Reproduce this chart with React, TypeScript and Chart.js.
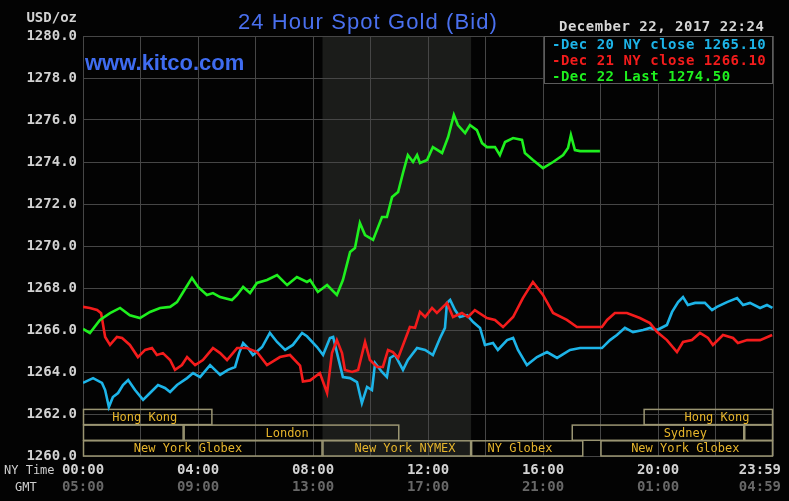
import React, { useEffect, useRef } from "react";
import { Chart, registerables } from "chart.js";

Chart.register(...registerables);

const W = 789;
const H = 501;

// ---- data (time in NY hours, price in USD/oz) ----
const dec20Hours = [0,0.35,0.66,0.77,0.9,1.04,1.22,1.39,1.57,1.81,2.09,2.33,2.61,2.85,3.03,3.27,3.62,3.83,4.07,4.42,4.77,5.04,5.29,5.43,5.57,5.74,5.91,6.23,6.5,6.75,7.03,7.3,7.62,7.79,8.14,8.35,8.59,8.7,8.87,9.04,9.29,9.53,9.7,9.88,10.05,10.16,10.4,10.57,10.68,10.85,11.13,11.3,11.62,11.9,12.17,12.42,12.59,12.66,12.77,12.94,13.11,13.36,13.57,13.81,13.98,14.26,14.43,14.75,14.96,15.13,15.44,15.79,16.14,16.49,16.94,17.29,18.05,18.33,18.57,18.85,19.13,19.48,19.72,19.97,20.31,20.49,20.7,20.87,21.04,21.29,21.63,21.88,22.05,22.4,22.75,22.96,23.2,23.55,23.79,23.98];
const dec20Values = [1263.48,1263.71,1263.48,1263.14,1262.33,1262.81,1263.0,1263.38,1263.62,1263.14,1262.67,1263.0,1263.38,1263.24,1263.05,1263.38,1263.71,1263.95,1263.76,1264.33,1263.86,1264.1,1264.24,1264.9,1265.38,1265.14,1264.81,1265.19,1265.86,1265.43,1265.05,1265.29,1265.86,1265.7,1265.19,1264.81,1265.62,1265.67,1264.71,1263.76,1263.71,1263.52,1262.52,1263.29,1263.14,1264.43,1264.0,1263.76,1264.67,1264.81,1264.1,1264.57,1265.14,1265.05,1264.81,1265.62,1266.1,1267.29,1267.43,1266.95,1266.62,1266.71,1266.38,1266.1,1265.29,1265.38,1265.05,1265.52,1265.62,1265.05,1264.33,1264.71,1264.95,1264.67,1265.05,1265.14,1265.14,1265.52,1265.76,1266.1,1265.9,1266.0,1266.1,1266.0,1266.24,1266.86,1267.33,1267.57,1267.19,1267.29,1267.29,1266.95,1267.1,1267.33,1267.52,1267.19,1267.29,1267.05,1267.19,1267.05];

const dec21Hours = [0,0.24,0.49,0.63,0.77,0.94,1.18,1.36,1.63,1.91,2.16,2.4,2.57,2.78,3.03,3.2,3.44,3.62,3.9,4.17,4.52,4.77,5.01,5.36,5.7,6.05,6.4,6.85,7.2,7.55,7.65,7.9,8.24,8.49,8.66,8.83,9.01,9.11,9.36,9.57,9.81,9.98,10.23,10.43,10.61,10.78,10.96,11.37,11.55,11.72,11.9,12.14,12.31,12.66,12.87,13.18,13.39,13.63,14.05,14.33,14.61,14.96,15.3,15.65,16.0,16.35,16.83,17.18,18.05,18.23,18.5,18.92,19.37,19.72,19.97,20.31,20.66,20.87,21.18,21.46,21.74,21.91,22.26,22.61,22.78,23.1,23.55,23.97];
const dec21Values = [1267.1,1267.05,1266.95,1266.8,1265.67,1265.29,1265.67,1265.62,1265.29,1264.71,1265.05,1265.14,1264.81,1264.9,1264.57,1264.1,1264.33,1264.71,1264.33,1264.57,1265.14,1264.9,1264.57,1265.14,1265.14,1264.95,1264.33,1264.71,1264.81,1264.3,1263.55,1263.6,1263.95,1263.0,1264.9,1265.52,1264.9,1264.1,1264.0,1264.1,1265.43,1264.57,1264.24,1264.24,1265.05,1264.95,1264.67,1266.14,1266.1,1266.86,1266.62,1267.05,1266.81,1267.29,1266.62,1266.81,1266.62,1266.95,1266.57,1266.48,1266.14,1266.62,1267.52,1268.29,1267.67,1266.81,1266.48,1266.14,1266.14,1266.48,1266.81,1266.81,1266.57,1266.33,1265.9,1265.52,1264.95,1265.43,1265.52,1265.86,1265.62,1265.29,1265.76,1265.62,1265.38,1265.52,1265.52,1265.76];

const dec22Hours = [0,0.24,0.59,0.94,1.29,1.63,1.98,2.33,2.68,3.03,3.27,3.48,3.79,4.0,4.31,4.52,4.77,5.18,5.36,5.57,5.81,6.05,6.4,6.75,7.1,7.44,7.79,7.9,8.17,8.49,8.83,9.04,9.29,9.46,9.63,9.81,10.09,10.4,10.57,10.75,10.96,11.13,11.3,11.48,11.62,11.72,11.97,12.17,12.49,12.7,12.9,13.04,13.29,13.46,13.7,13.88,14.05,14.33,14.5,14.68,14.96,15.27,15.37,15.65,16.0,16.35,16.7,16.87,16.97,17.11,17.29,17.98];
const dec22Values = [1266.05,1265.86,1266.48,1266.8,1267.05,1266.7,1266.57,1266.86,1267.05,1267.1,1267.33,1267.8,1268.48,1268.05,1267.67,1267.76,1267.57,1267.43,1267.67,1268.05,1267.76,1268.24,1268.38,1268.62,1268.14,1268.52,1268.29,1268.38,1267.81,1268.14,1267.67,1268.38,1269.71,1269.9,1271.1,1270.52,1270.29,1271.38,1271.38,1272.33,1272.57,1273.48,1274.33,1274.0,1274.33,1273.95,1274.1,1274.71,1274.43,1275.19,1276.24,1275.76,1275.38,1275.76,1275.52,1274.9,1274.71,1274.71,1274.33,1274.95,1275.14,1275.05,1274.43,1274.1,1273.71,1274.0,1274.33,1274.67,1275.29,1274.57,1274.52,1274.52];

const seriesLabels = ["Dec 20 NY close 1265.10", "Dec 21 NY close 1266.10", "Dec 22 Last 1274.50"];
const seriesColors = ["#1db4e8", "#f41c1c", "#1ff01f"];

const yMin = 1260;
const yMax = 1280;
const yTicks = [1260, 1262, 1264, 1266, 1268, 1270, 1272, 1274, 1276, 1278, 1280];
const gridHours = [0, 2, 4, 6, 8, 10, 12, 14, 16, 18, 20, 22, 24];
const xLabelHours = [0, 4, 8, 12, 16, 20, 23.983];
const nyTimeLabels = ["00:00", "04:00", "08:00", "12:00", "16:00", "20:00", "23:59"];
const gmtLabels = ["05:00", "09:00", "13:00", "17:00", "21:00", "01:00", "04:59"];

const nymexStart = 8.33;
const nymexEnd = 13.5;

const sessionNames = ["Hong Kong", "Hong Kong", "", "London", "Sydney", "", "New York Globex", "New York NYMEX", "NY Globex", "New York Globex"];
const sessionRows = [0, 0, 1, 1, 1, 1, 2, 2, 2, 2];
const sessionStart = [0, 19.5, 0, 3.5, 17, 23, 0, 8.33, 13.5, 18];
const sessionEnd = [4.5, 24, 3.5, 11, 23, 24, 8.33, 13.5, 17.4, 24];
const sessionLabelAt = [2.15, 22.05, 0, 7.1, 20.95, 0, 3.65, 11.2, 15.2, 20.95];

const titleText = "24 Hour Spot Gold (Bid)";
const siteText = "www.kitco.com";
const dateText = "December 22, 2017 22:24";
const unitText = "USD/oz";

const BG = "#030303";
const SHADE = "#1b1c1a";
const GRID = "#464646";
const MONO = "'DejaVu Sans Mono', monospace";

const decor = {
  id: "decor",
  beforeDraw(chart: any) {
    const { ctx, chartArea: a, scales } = chart;
    const x = scales.x;
    ctx.save();
    ctx.fillStyle = BG;
    ctx.fillRect(0, 0, W, H);
    const x0 = x.getPixelForValue(nymexStart);
    const x1 = x.getPixelForValue(nymexEnd);
    ctx.fillStyle = SHADE;
    ctx.fillRect(x0, a.top, x1 - x0, a.bottom - a.top);
    ctx.restore();
  },
  beforeDatasetsDraw(chart: any) {
    const { ctx, chartArea: a, scales } = chart;
    const x = scales.x;
    const rowH = 15.7;
    ctx.save();
    ctx.strokeStyle = "#9a9572";
    ctx.lineWidth = 1.5;
    ctx.font = `12px ${MONO}`;
    ctx.fillStyle = "#e6b52c";
    ctx.textAlign = "center";
    ctx.textBaseline = "middle";
    for (let i = 0; i < sessionNames.length; i++) {
      const top = a.bottom - (3 - sessionRows[i]) * rowH;
      const xs = x.getPixelForValue(sessionStart[i]);
      const xe = x.getPixelForValue(sessionEnd[i]);
      ctx.strokeRect(xs + 0.5, top + 0.5, xe - xs - 1, rowH - 0.5);
      if (sessionNames[i]) {
        ctx.fillText(sessionNames[i], x.getPixelForValue(sessionLabelAt[i]), top + rowH / 2 + 1);
      }
    }
    ctx.restore();
  },
  afterDraw(chart: any) {
    const { ctx, chartArea: a, scales } = chart;
    const x = scales.x;
    ctx.save();
    // title
    ctx.fillStyle = "#4a70ee";
    ctx.font = "22px 'Liberation Sans', Arial, sans-serif";
    (ctx as any).letterSpacing = "1.1px";
    ctx.textAlign = "center";
    ctx.textBaseline = "alphabetic";
    ctx.fillText(titleText, 368, 29);
    ctx.font = "bold 22px 'Liberation Sans', Arial, sans-serif";
    (ctx as any).letterSpacing = "0px";
    ctx.textAlign = "left";
    ctx.fillStyle = "#3f6cf0";
    ctx.fillText(siteText, 85, 70);

    // unit label
    ctx.font = `bold 14px ${MONO}`;
    ctx.fillStyle = "#d2d2d2";
    ctx.textAlign = "right";
    ctx.textBaseline = "middle";
    ctx.fillText(unitText, a.left - 6, 18);

    // date
    (ctx as any).letterSpacing = "0.5px";
    ctx.textAlign = "left";
    ctx.fillStyle = "#d6d6d6";
    ctx.fillText(dateText, 559, 27);

    // legend box
    const lx = 544;
    const lt = a.top;
    ctx.fillStyle = BG;
    ctx.fillRect(lx, lt, a.right - lx, 47);
    ctx.strokeStyle = "#5c5c5c";
    ctx.lineWidth = 1;
    ctx.strokeRect(lx + 0.5, lt + 0.5, a.right - lx - 1, 47);
    chart.data.datasets.forEach((ds: any, i: number) => {
      ctx.fillStyle = ds.borderColor;
      ctx.fillText("-" + ds.label, 552, lt + 9 + i * 16);
    });

    // x-axis labels
    ctx.textAlign = "center";
    ctx.font = `bold 14px ${MONO}`;
    (ctx as any).letterSpacing = "0px";
    for (let i = 0; i < xLabelHours.length; i++) {
      const w = ctx.measureText(nyTimeLabels[i]).width;
      let px = x.getPixelForValue(xLabelHours[i]);
      px = Math.min(px, W - 8 - w / 2);
      ctx.fillStyle = "#d2d2d2";
      ctx.fillText(nyTimeLabels[i], px, 470);
      ctx.fillStyle = "#686868";
      ctx.fillText(gmtLabels[i], px, 487);
    }
    ctx.font = `12px ${MONO}`;
    ctx.textAlign = "left";
    ctx.fillStyle = "#cfcfcf";
    ctx.fillText("NY Time", 4, 471);
    ctx.fillText("GMT", 15, 488);
    ctx.restore();
  },
};

export default function App() {
  const ref = useRef<HTMLCanvasElement>(null);
  useEffect(() => {
    if (!ref.current) return;
    const allHours = [dec20Hours, dec21Hours, dec22Hours];
    const allValues = [dec20Values, dec21Values, dec22Values];
    const chart = new Chart(ref.current, {
      type: "line",
      data: {
        datasets: seriesLabels.map((label, i) => ({
          label,
          data: allHours[i].map((h, j) => ({ x: h, y: allValues[i][j] })),
          borderColor: seriesColors[i],
          backgroundColor: seriesColors[i],
          borderWidth: 2.6,
          pointRadius: 0,
          tension: 0,
          fill: false,
          order: 3 - i,
        })),
      },
      options: {
        responsive: false,
        animation: false,
        devicePixelRatio: 1,
        layout: { padding: { top: 36, right: 16, left: 0, bottom: 0 } },
        plugins: {
          legend: { display: false },
          tooltip: { enabled: false },
          title: { display: false },
        },
        scales: {
          x: {
            type: "linear",
            min: 0,
            max: 24,
            afterBuildTicks: (s: any) => {
              s.ticks = gridHours.map((v) => ({ value: v }));
            },
            afterFit: (s: any) => {
              s.height = 45;
            },
            ticks: { display: false },
            grid: { color: GRID, lineWidth: 1, drawTicks: false },
            border: { display: false },
          },
          y: {
            min: yMin,
            max: yMax,
            afterBuildTicks: (s: any) => {
              s.ticks = yTicks.map((v) => ({ value: v }));
            },
            afterFit: (s: any) => {
              s.width = 83;
            },
            ticks: {
              padding: 6,
              color: "#d2d2d2",
              font: { family: "DejaVu Sans Mono", size: 14, weight: "bold" },
              callback: (v: any) => Number(v).toFixed(1),
            },
            grid: { color: GRID, lineWidth: 1, drawTicks: false },
            border: { display: false },
          },
        },
      },
      plugins: [decor],
    } as any);
    return () => chart.destroy();
  }, []);
  return (
    <div style={{ position: "absolute", left: 0, top: 0, width: W, height: H, background: BG }}>
      <canvas ref={ref} width={W} height={H} style={{ display: "block", width: W, height: H }} />
    </div>
  );
}
